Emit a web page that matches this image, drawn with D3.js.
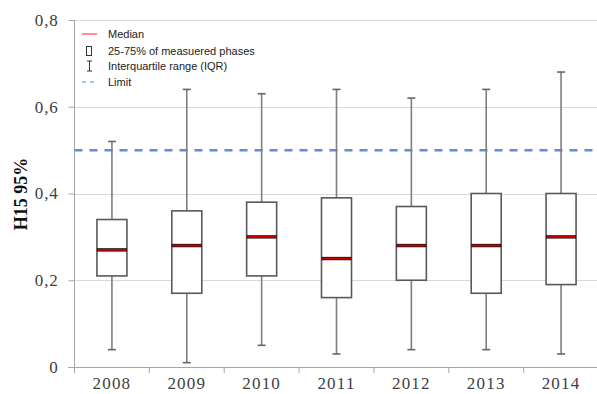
<!DOCTYPE html>
<html><head><meta charset="utf-8">
<script src="https://cdn.jsdelivr.net/npm/d3@7"></script>
<style>body{margin:0;background:#fff}svg{display:block}</style>
</head><body><svg id="c" width="597" height="394"></svg>
<script>
const years = ["2008","2009","2010","2011","2012","2013","2014"];
const whiskerLow = [0.04,0.01,0.05,0.03,0.04,0.04,0.03];
const q1 = [0.21,0.17,0.21,0.16,0.20,0.17,0.19];
const median = [0.27,0.28,0.30,0.25,0.28,0.28,0.30];
const q3 = [0.34,0.36,0.38,0.39,0.37,0.40,0.40];
const whiskerHigh = [0.52,0.64,0.63,0.64,0.62,0.64,0.68];
const limit = 0.5;
const yTicks = [0,0.2,0.4,0.6,0.8];
const legendItems = ["Median","25-75% of measuered phases","Interquartile range (IQR)","Limit"];

const svg = d3.select("#c");
const x = d3.scaleBand().domain(years).range([74.5,598.5]).padding(0);
const y = d3.scaleLinear().domain([0,0.8]).range([367,20]);
const fmt = d => d===0 ? "0" : d3.format(".1f")(d).replace(".",",");

// gridlines
svg.append("g").selectAll("line").data(yTicks.filter(d=>d>0)).join("line")
  .attr("x1",74.5).attr("x2",597).attr("y1",d=>Math.round(y(d))+0.5).attr("y2",d=>Math.round(y(d))+0.5)
  .attr("stroke","#d9d9d9").attr("stroke-width",1);

// y axis
const ya = svg.append("g").attr("transform","translate(74.5,0)")
  .call(d3.axisLeft(y).tickValues(yTicks).tickFormat(fmt).tickSize(6).tickPadding(10));
ya.select(".domain").attr("stroke","#a6a6a6").attr("d","M0,20V367.5");
ya.selectAll(".tick line").attr("stroke","#a6a6a6");
ya.selectAll(".tick text").attr("font-family","'Liberation Serif',serif").attr("font-size",17)
  .attr("fill","#404040").attr("letter-spacing",0.8);

// x axis
const xa = svg.append("g").attr("transform","translate(0,367.5)")
  .call(d3.axisBottom(x).tickSize(0).tickPadding(9));
xa.select(".domain").attr("stroke","#a6a6a6").attr("d","M68,0H598");
xa.selectAll(".tick text").attr("font-family","'Liberation Serif',serif").attr("font-size",17)
  .attr("fill","#404040").attr("letter-spacing",1.2);
svg.append("g").selectAll("line").data(years).join("line")
  .attr("x1",d=>x(d)).attr("x2",d=>x(d)).attr("y1",367.5).attr("y2",373)
  .attr("stroke","#a6a6a6");

// y title
svg.append("text").attr("transform","translate(27,194) rotate(-90)").attr("text-anchor","middle")
  .attr("font-family","'Liberation Serif',serif").attr("font-weight","bold").attr("font-size",18)
  .attr("fill","#111").text("H15 95%");

// limit line
svg.append("line").attr("x1",74.5).attr("x2",597).attr("y1",y(limit)).attr("y2",y(limit))
  .attr("stroke","#5a8fdc").attr("stroke-width",2.5).attr("stroke-dasharray","8,7");

// boxes
const bw = 30, cw = 8;
const g = svg.append("g").selectAll("g").data(years).join("g")
  .attr("transform",d=>`translate(${x(d)+x.bandwidth()/2},0)`);
g.append("line").attr("x1",0).attr("x2",0).attr("y1",(d,i)=>y(whiskerHigh[i])).attr("y2",(d,i)=>y(whiskerLow[i]))
  .attr("stroke","#7f7f7f").attr("stroke-width",1.6);
g.append("line").attr("x1",-cw/2).attr("x2",cw/2).attr("y1",(d,i)=>y(whiskerHigh[i])).attr("y2",(d,i)=>y(whiskerHigh[i]))
  .attr("stroke","#666").attr("stroke-width",1.6);
g.append("line").attr("x1",-cw/2).attr("x2",cw/2).attr("y1",(d,i)=>y(whiskerLow[i])).attr("y2",(d,i)=>y(whiskerLow[i]))
  .attr("stroke","#666").attr("stroke-width",1.6);
g.append("rect").attr("x",-bw/2).attr("width",bw).attr("y",(d,i)=>y(q3[i])).attr("height",(d,i)=>y(q1[i])-y(q3[i]))
  .attr("fill","#fff").attr("stroke","#595959").attr("stroke-width",1.6);
g.append("line").attr("x1",-bw/2).attr("x2",bw/2).attr("y1",(d,i)=>y(median[i])).attr("y2",(d,i)=>y(median[i]))
  .attr("stroke","#2a1010").attr("stroke-width",3.4);
g.append("line").attr("x1",-bw/2+0.8).attr("x2",bw/2-0.8).attr("y1",(d,i)=>y(median[i])).attr("y2",(d,i)=>y(median[i]))
  .attr("stroke","#d00000").attr("stroke-width",1.7);

// legend
const lg = svg.append("g");
const ly = [34,51,66,82];
lg.selectAll("text").data(legendItems).join("text")
  .attr("x",108).attr("y",(d,i)=>ly[i]+4).attr("font-family","'Liberation Sans',Arial,sans-serif")
  .attr("font-size",11).attr("fill","#222").text(d=>d);
lg.append("line").attr("x1",82).attr("x2",97).attr("y1",ly[0]).attr("y2",ly[0]).attr("stroke","#ff2020").attr("stroke-width",1);
lg.append("rect").attr("x",86.5).attr("y",ly[1]-4.5).attr("width",5).attr("height",9).attr("fill","none").attr("stroke","#333").attr("stroke-width",1);
lg.append("line").attr("x1",89.5).attr("x2",89.5).attr("y1",ly[2]-5).attr("y2",ly[2]+5).attr("stroke","#333");
lg.append("line").attr("x1",87).attr("x2",92).attr("y1",ly[2]-5).attr("y2",ly[2]-5).attr("stroke","#333");
lg.append("line").attr("x1",87).attr("x2",92).attr("y1",ly[2]+5).attr("y2",ly[2]+5).attr("stroke","#333");
lg.append("line").attr("x1",82).attr("x2",97).attr("y1",ly[3]).attr("y2",ly[3]).attr("stroke","#8fb0e8").attr("stroke-width",1.5).attr("stroke-dasharray","4,4");
</script></body></html>
